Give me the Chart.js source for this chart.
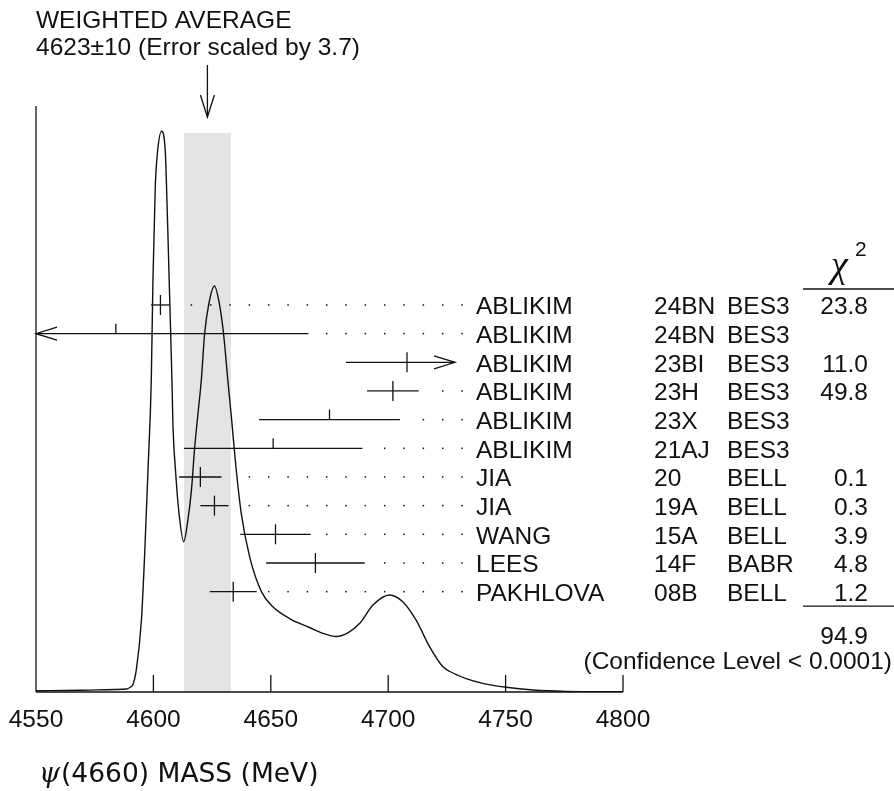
<!DOCTYPE html>
<html>
<head>
<meta charset="utf-8">
<script src="https://cdn.jsdelivr.net/npm/chart.js@4/dist/chart.umd.min.js"></script>
<style>
  html, body { margin: 0; padding: 0; background: #fff; }
</style>
</head>
<body>
<canvas id="chart" width="894" height="791"></canvas>
<script>
// ideogram curve (mass in MeV, relative height, peak = 100)
const curveMass = [4550.0, 4568.6, 4583.5, 4588.5, 4590.3, 4591.2, 4592.7, 4594.9, 4596.3, 4597.7,
  4599.1, 4599.8, 4600.8, 4601.7, 4603.5, 4605.1, 4605.6, 4606.4, 4607.2, 4607.9,
  4608.3, 4609.5, 4610.9, 4612.9, 4614.7, 4616.2, 4617.6, 4619.0, 4620.4, 4621.8,
  4623.5, 4626.0, 4628.2, 4629.9, 4631.7, 4633.2, 4635.0, 4637.4, 4641.0, 4646.0,
  4650.9, 4658.0, 4666.5, 4672.0, 4678.0, 4683.0, 4688.0, 4693.5, 4700.6, 4706.2, 4711.9,
  4717.6, 4723.3, 4726.1, 4733.2, 4740.3, 4750.3, 4761.6, 4775.8, 4800.0];
const curveHeight = [0.23, 0.30, 0.45, 0.53, 0.9, 1.25, 3.9, 12.8, 24.8, 39.6,
  55.6, 73.4, 90.1, 96.1, 100, 96.1, 90.1, 78.3, 66.3, 55.6,
  48.0, 39.0, 31.9, 26.8, 30.7, 36.0, 43.7, 49.7, 55.6, 63.8,
  69.0, 72.4, 69.0, 63.8, 55.6, 49.1, 40.8, 31.9, 24.1, 17.9,
  15.2, 13.1, 11.5, 10.5, 9.9, 10.6, 12.3, 15.5, 17.3, 16.1, 12.8,
  8.1, 4.5, 3.7, 2.4, 1.55, 0.84, 0.36, 0.12, 0.05];

// measurements, top to bottom
const authors = ["ABLIKIM", "ABLIKIM", "ABLIKIM", "ABLIKIM", "ABLIKIM", "ABLIKIM", "JIA", "JIA", "WANG", "LEES", "PAKHLOVA"];
const refs = ["24BN", "24BN", "23BI", "23H", "23X", "21AJ", "20", "19A", "15A", "14F", "08B"];
const expts = ["BES3", "BES3", "BES3", "BES3", "BES3", "BES3", "BELL", "BELL", "BELL", "BABR", "BELL"];
const masses = [4603, 4584, 4708, 4702, 4675, 4651, 4620, 4626, 4652, 4669, 4634];
const errors = [4, 82, 26, 11, 30, 38, 9, 6, 15, 21, 10];
const usedInFit = [true, false, true, true, false, false, true, true, true, true, true];
const chi2 = ["23.8", "", "11.0", "49.8", "", "", "0.1", "0.3", "3.9", "4.8", "1.2"];
const chi2Total = "94.9";
const confLevel = "(Confidence Level < 0.0001)";

const avgMass = 4623;
const avgError = 10;
const errScale = 3.7;
const xTicks = [4550, 4600, 4650, 4700, 4750, 4800];
const xTitle = "(4660) MASS (MeV)";

const SANS = '"Liberation Sans", Arial, sans-serif';
const INK = "#111";

function seg(ctx, x0, y0, x1, y1) {
  ctx.beginPath();
  ctx.moveTo(x0, y0);
  ctx.lineTo(x1, y1);
  ctx.stroke();
}

const ideogramPlugin = {
  id: "ideogram",
  beforeDatasetsDraw(chart) {
    const { ctx, chartArea: a, scales: { x } } = chart;
    ctx.save();
    // error band of the weighted average
    const b0 = x.getPixelForValue(avgMass - avgError);
    const b1 = x.getPixelForValue(avgMass + avgError);
    ctx.fillStyle = "#e4e4e4";
    ctx.fillRect(b0, a.top + 27, b1 - b0, a.bottom - a.top - 27);

    // axes
    ctx.strokeStyle = INK;
    ctx.lineWidth = 1.3;
    seg(ctx, a.left, a.top, a.left, a.bottom);
    seg(ctx, a.left, a.bottom, a.right, a.bottom);
    ctx.fillStyle = INK;
    ctx.font = "24.5px " + SANS;
    ctx.textAlign = "center";
    ctx.textBaseline = "alphabetic";
    xTicks.forEach(t => {
      const px = x.getPixelForValue(t);
      if (t !== xTicks[0]) seg(ctx, px, a.bottom, px, a.bottom - 17);
      ctx.fillText(String(t), px, a.bottom + 35);
    });

    // axis title
    ctx.textAlign = "left";
    ctx.font = 'italic 27px "DejaVu Serif", serif';
    ctx.fillText("\u03C8", a.left + 3, a.bottom + 90);
    ctx.font = '26.5px "DejaVu Sans", sans-serif';
    ctx.fillText(xTitle, a.left + 25, a.bottom + 90);

    // weighted average label and arrow
    ctx.font = "24.5px " + SANS;
    ctx.fillText("WEIGHTED AVERAGE", a.left, 28);
    ctx.fillText(avgMass + "\u00B1" + avgError + " (Error scaled by " + errScale + ")", a.left, 55);
    const ax = x.getPixelForValue(avgMass);
    seg(ctx, ax, 65, ax, 117);
    ctx.beginPath();
    ctx.moveTo(ax - 7, 95);
    ctx.lineTo(ax, 117);
    ctx.lineTo(ax + 7, 95);
    ctx.stroke();
    ctx.restore();
  },
  afterDatasetsDraw(chart) {
    const { ctx, chartArea: a, scales: { x, yRow } } = chart;
    const lo = xTicks[0];
    const hi = x.getValueForPixel(455);
    ctx.save();
    ctx.strokeStyle = INK;
    ctx.fillStyle = INK;
    ctx.lineWidth = 1.3;
    ctx.font = "24.5px " + SANS;
    ctx.textBaseline = "alphabetic";

    masses.forEach((m, i) => {
      const yy = yRow.getPixelForValue(i);
      const left = m - errors[i];
      const right = m + errors[i];
      const xl = x.getPixelForValue(Math.max(left, lo));
      const xr = x.getPixelForValue(Math.min(right, hi));
      seg(ctx, xl, yy, xr, yy);
      if (left < lo) {
        ctx.beginPath();
        ctx.moveTo(xl + 21, yy - 6.5);
        ctx.lineTo(xl, yy);
        ctx.lineTo(xl + 21, yy + 6.5);
        ctx.stroke();
      }
      const xc = x.getPixelForValue(m);
      seg(ctx, xc, yy - 10, xc, usedInFit[i] ? yy + 10 : yy);

      if (right > hi) {
        ctx.beginPath();
        ctx.moveTo(xr - 21, yy - 6.5);
        ctx.lineTo(xr, yy);
        ctx.lineTo(xr - 21, yy + 6.5);
        ctx.stroke();
      } else {
        // dotted leader to the label
        let d = a.left + 155.4;
        while (d < xr + 12) d += 19.33;
        for (; d < 466; d += 19.33) ctx.fillRect(d - 0.75, yy - 0.75, 1.5, 1.5);
      }

      ctx.textAlign = "left";
      ctx.fillText(authors[i], 476, yy + 9.5);
      ctx.fillText(refs[i], 654, yy + 9.5);
      ctx.fillText(expts[i], 727, yy + 9.5);
      ctx.textAlign = "right";
      if (chi2[i]) ctx.fillText(chi2[i], 868, yy + 9.5);
    });

    // chi-square column
    ctx.textAlign = "left";
    ctx.font = 'italic 38px "Liberation Serif", serif';
    ctx.fillText("\u03C7", 831, 277);
    ctx.font = "21px " + SANS;
    ctx.fillText("2", 855, 256);
    seg(ctx, 803, 289, 894, 289);
    const lastY = yRow.getPixelForValue(masses.length - 1);
    seg(ctx, 803, lastY + 14.5, 894, lastY + 14.5);
    ctx.font = "24.5px " + SANS;
    ctx.textAlign = "right";
    ctx.fillText(chi2Total, 868, lastY + 52);
    ctx.fillText(confLevel, 892, lastY + 77);
    ctx.restore();
  }
};

const ctx = document.getElementById("chart").getContext("2d");
new Chart(ctx, {
  type: "line",
  data: {
    datasets: [{
      data: curveMass.map((m, i) => ({ x: m, y: curveHeight[i] })),
      borderColor: INK,
      borderWidth: 1.4,
      pointRadius: 0,
      fill: false,
      cubicInterpolationMode: "monotone",
      yAxisID: "y"
    }]
  },
  options: {
    responsive: false,
    animation: false,
    layout: { padding: { left: 36, right: 271, top: 106, bottom: 99 } },
    plugins: { legend: { display: false }, tooltip: { enabled: false } },
    scales: {
      x: { type: "linear", min: 4550, max: 4800, display: false },
      y: { min: 0, max: 104.5, display: false },
      yRow: { axis: "y", type: "linear", min: -6.94, max: 13.5, reverse: true, display: false }
    }
  },
  plugins: [ideogramPlugin]
});
</script>
</body>
</html>
